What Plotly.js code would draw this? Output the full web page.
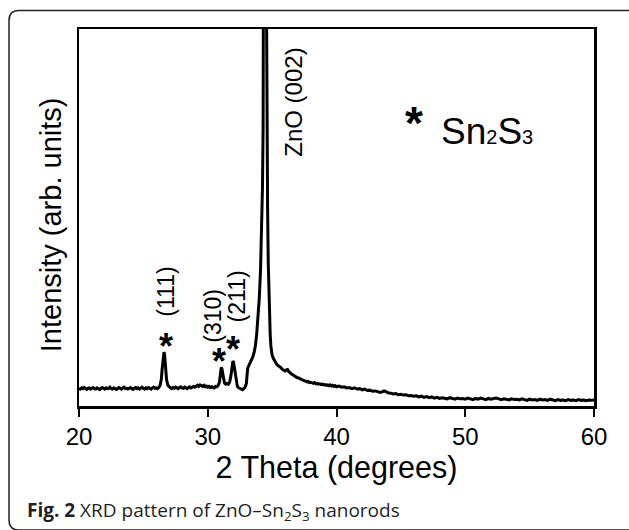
<!DOCTYPE html>
<html>
<head>
<meta charset="utf-8">
<script src="https://cdn.plot.ly/plotly-3.0.1.min.js"></script>
<style>
  html, body { margin: 0; padding: 0; background: #fff; }
  #chart { width: 629px; height: 530px; }
</style>
</head>
<body>
<div id="chart"></div>
<script>
// 2-theta positions (degrees)
const twoTheta = [
  20.0,20.1,20.2,20.3,20.4,20.5,20.6,20.7,20.8,20.9,
  21.0,21.1,21.2,21.3,21.4,21.5,21.6,21.7,21.8,21.9,
  22.0,22.1,22.2,22.3,22.4,22.5,22.6,22.7,22.8,22.9,
  23.0,23.1,23.2,23.3,23.4,23.5,23.6,23.7,23.8,23.9,
  24.0,24.1,24.2,24.3,24.4,24.5,24.6,24.7,24.8,24.9,
  25.0,25.1,25.2,25.3,25.4,25.5,25.6,25.7,25.8,25.9,
  26.0,26.1,26.2,
  26.3,26.4,26.45,26.5,26.55,26.6,26.65,26.7,26.75,26.8,26.9,27.0,
  27.1,27.2,27.3,27.4,27.5,27.6,27.7,27.8,27.9,
  28.0,28.1,28.2,28.3,28.4,28.5,28.6,28.7,28.8,28.9,
  29.0,29.1,29.2,29.3,29.4,29.5,29.6,29.7,29.8,29.9,
  30.0,30.1,30.2,30.3,30.4,30.5,30.6,30.7,
  30.8,30.9,30.95,31.0,31.05,31.1,31.15,31.2,31.3,31.4,
  31.5,31.6,31.7,31.8,31.85,31.9,31.95,32.0,32.05,32.1,
  32.2,32.3,32.4,32.5,32.6,32.7,32.8,32.9,33.0,33.05,
  33.1,33.2,33.3,33.4,33.5,33.6,33.7,33.8,33.9,34.0,
  34.1,34.2,34.25,34.3,34.35,34.4,34.45,34.5,34.55,34.6,
  34.65,34.7,34.75,34.8,34.85,34.9,34.95,35.0,
  35.1,35.2,35.3,35.4,35.5,35.6,35.7,35.8,35.9,
  36.0,36.1,36.2,36.3,36.4,36.5,36.6,36.7,36.8,36.9,
  37.0,37.1,37.2,37.3,37.4,37.5,37.6,37.7,37.8,37.9,
  38.0,38.1,38.2,38.3,38.4,38.5,38.6,38.7,38.8,38.9,
  39.0,39.1,39.2,39.3,39.4,39.5,39.6,39.7,39.8,39.9,
  40.0,
  40.2,40.4,40.6,40.8,41.0,41.2,41.4,41.6,41.8,42.0,
  42.2,42.4,42.6,42.8,43.0,43.2,43.4,43.6,43.7,43.8,
  44.0,44.2,44.4,44.6,44.8,45.0,45.2,45.4,45.6,45.8,
  46.0,46.2,46.4,46.6,46.8,47.0,47.2,47.4,47.6,47.8,
  48.0,48.2,48.4,48.6,48.8,49.0,49.2,49.4,49.6,49.8,
  50.0,50.2,50.4,50.6,50.8,51.0,51.2,51.4,51.6,51.8,
  52.0,52.2,52.4,52.6,52.8,53.0,53.2,53.4,53.6,53.8,
  54.0,54.2,54.4,54.6,54.8,55.0,55.2,55.4,55.6,55.8,
  56.0,56.2,56.4,56.6,56.8,57.0,57.2,57.4,57.6,57.8,
  58.0,58.2,58.4,58.6,58.8,59.0,59.2,59.4,59.6,59.8,
  60.0
];
// Intensity (arb. units)
const intensity = [
  47,45,48,46,49,46,44,47,48,45,
  47,49,46,45,48,47,44,46,49,47,
  45,48,46,47,50,46,45,48,47,44,
  46,49,47,45,48,50,46,47,45,48,
  49,46,44,47,49,46,48,45,47,50,
  47,45,48,46,49,47,45,48,50,47,
  48,46,49,
  55,72,95,120,137,143,136,114,90,70,55,50,
  48,46,49,47,50,48,46,49,51,
  48,47,50,48,46,49,51,48,50,52,
  50,53,55,52,56,54,52,55,51,53,
  50,52,49,51,50,48,52,51,
  54,62,75,92,102,99,86,72,61,58,
  60,58,63,80,98,112,119,117,106,90,
  64,52,48,46,45,43,46,50,60,80,
  100,108,115,122,130,142,160,190,230,285,
  360,480,580,740,1050,1800,3200,2000,1150,720,
  520,380,290,230,190,160,145,135,
  126,118,114,109,107,103,101,97,95,
  93,96,97,91,87,85,83,80,79,76,
  75,73,71,70,68,67,66,64,65,62,
  63,61,60,62,59,60,58,59,57,58,
  56,57,55,56,54,56,53,55,52,54,
  51,
  53,50,51,48,49,46,48,45,46,43,
  45,41,42,39,40,37,36,38,40,39,
  35,34,32,33,30,31,29,30,27,28,
  26,27,24,26,23,25,22,24,21,23,
  20,22,21,19,22,20,18,21,19,20,
  18,21,19,17,20,18,21,19,17,20,
  18,20,21,19,17,19,18,16,19,17,
  18,16,19,17,15,18,16,17,15,18,
  16,17,15,18,16,14,17,15,16,14,
  17,15,16,14,17,15,16,14,16,15,
  16
];
const xTicks = [20, 30, 40, 50, 60];
const xTickLabels = ["20", "30", "40", "50", "60"];

// Peak labels
const starX = [26.74, 30.88, 31.99];
const starY = [158, 117, 151];
const hklText = ["(111)", "(310)", "(211)"];
const hklX = [26.78, 30.39, 32.25];
const hklY = [304, 239, 290];

const ARIAL = "Liberation Sans, Arial, Helvetica, sans-serif";

const annotations = [];
for (let i = 0; i < starX.length; i++) {
  annotations.push({x: starX[i], y: starY[i], xref: "x", yref: "y", text: "*", showarrow: false,
    font: {family: ARIAL, size: 36, color: "#000", weight: "bold"}, xanchor: "center", yanchor: "middle"});
  annotations.push({x: hklX[i], y: hklY[i], xref: "x", yref: "y", text: hklText[i], showarrow: false,
    textangle: -90, font: {family: ARIAL, size: 23, color: "#000"}, xanchor: "center", yanchor: "middle"});
}
annotations.push({x: 36.64, y: 805, xref: "x", yref: "y", text: "ZnO (002)", showarrow: false,
  textangle: -90, font: {family: ARIAL, size: 24, color: "#000"}, xanchor: "center", yanchor: "middle"});
annotations.push({x: 45.99, y: 750, xref: "x", yref: "y", text: "*", showarrow: false,
  font: {family: ARIAL, size: 46, color: "#000", weight: "bold"}, xanchor: "center", yanchor: "middle"});
annotations.push({x: 51.67, y: 727, xref: "x", yref: "y",
  text: 'Sn<span style="font-size:20px">2</span>S<span style="font-size:20px">3</span>', showarrow: false,
  font: {family: ARIAL, size: 37, color: "#000"}, xanchor: "center", yanchor: "middle"});
// y-axis title
annotations.push({x: -0.054, y: 0.48, xref: "paper", yref: "paper", text: "Intensity (arb. units)", showarrow: false,
  textangle: -90, font: {family: ARIAL, size: 29, color: "#000"}, xanchor: "center", yanchor: "middle"});
// figure caption
annotations.push({x: -0.105, y: -0.278, xref: "paper", yref: "paper",
  text: "<b>Fig. 2</b> XRD pattern of ZnO–Sn<sub>2</sub>S<sub>3</sub> nanorods", showarrow: false,
  font: {family: "Open Sans, Noto Sans, sans-serif", size: 19, color: "#231f20"}, xanchor: "left", yanchor: "middle"});

// Rounded outer frame (paper coordinates)
const X0 = -0.1359, Y0 = 1.0491, X1 = 1.09, Y1 = -0.3289, rx = 0.0194, ry = 0.0265;
const framePath = `M ${X0},${Y0 - ry} L ${X0},${Y1 + ry} Q ${X0},${Y1} ${X0 + rx},${Y1} L ${X1},${Y1} L ${X1},${Y0} L ${X0 + rx},${Y0} Q ${X0},${Y0} ${X0},${Y0 - ry} Z`;

const trace = {
  x: twoTheta, y: intensity, type: "scatter", mode: "lines",
  line: {color: "#000", width: 3}, hoverinfo: "skip", showlegend: false
};

const layout = {
  width: 629, height: 530,
  margin: {l: 79, r: 35, t: 29, b: 124},
  paper_bgcolor: "#fff", plot_bgcolor: "#fff",
  showlegend: false,
  xaxis: {
    range: [20, 60], tickmode: "array", tickvals: xTicks, ticktext: xTickLabels,
    ticks: "outside", ticklen: 8, tickwidth: 2, tickcolor: "#000",
    showline: true, linecolor: "#000", linewidth: 2.5, mirror: true,
    showgrid: false, zeroline: false,
    tickfont: {family: ARIAL, size: 24, color: "#000"},
    title: {text: "2 Theta (degrees)", font: {family: ARIAL, size: 30.5, color: "#000"}, standoff: 8}
  },
  yaxis: {
    range: [0, 1000], showticklabels: false, ticks: "",
    showline: true, linecolor: "#000", linewidth: 2.5, mirror: true,
    showgrid: false, zeroline: false
  },
  annotations: annotations,
  shapes: [{type: "path", xref: "paper", yref: "paper", path: framePath,
    line: {color: "#222", width: 1.5}, fillcolor: "rgba(0,0,0,0)", layer: "above"}]
};

Plotly.newPlot("chart", [trace], layout, {staticPlot: true, displayModeBar: false});
</script>
</body>
</html>
